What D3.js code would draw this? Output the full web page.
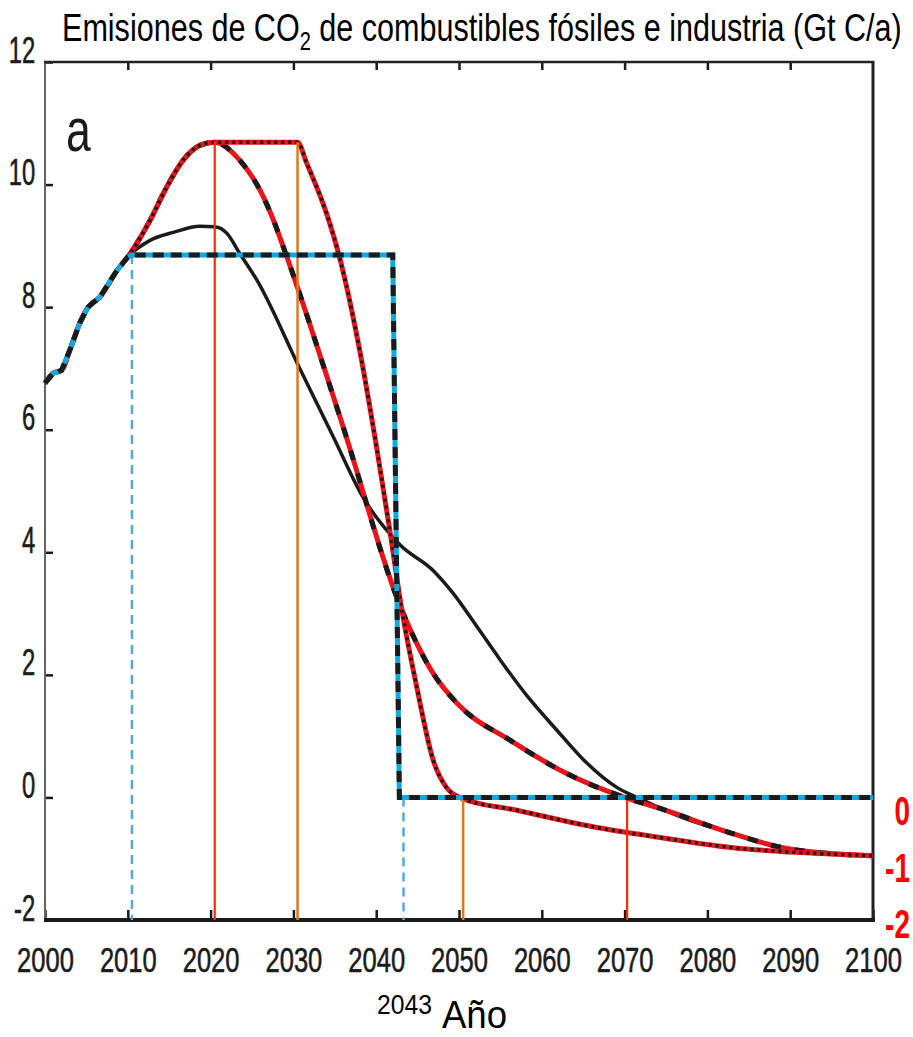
<!DOCTYPE html>
<html>
<head>
<meta charset="utf-8">
<script src="https://cdn.jsdelivr.net/npm/d3@7"></script>
<style>
body { margin: 0; background: #fff; }
svg { display: block; font-family: "Liberation Sans", Arial, sans-serif; }
</style>
</head>
<body>
<div id="vis1"></div>
<script>
// historical emissions, shared by every path
var histYears = [2000, 2001, 2002, 2003, 2004.2, 2005.2, 2006.6, 2008.7, 2010, 2010.6];
var histVals  = [6.76, 6.92, 6.97, 7.30, 7.74, 8.00, 8.16, 8.60, 8.82, 8.85];

// blue/black dashed step path
var stepYears = [2010.6, 2042.0, 2042.8, 2100];
var stepVals  = [8.85, 8.85, 0, 0];

// black solid path
var blackYears = [2010, 2012.7, 2015.5, 2018.7, 2020.5, 2022, 2023.5, 2025.6, 2030.8, 2034.8, 2038.4,
                  2042.9, 2046.9, 2049.3, 2052.2, 2055, 2058.2, 2061.8, 2065, 2069.1, 2071.5, 2077, 2083.1, 2089.1, 2095, 2100];
var blackVals  = [8.82, 9.09, 9.22, 9.32, 9.31, 9.20, 8.88, 8.44, 6.99, 5.89, 4.90,
                  4.12, 3.70, 3.33, 2.78, 2.24, 1.66, 1.10, 0.62, 0.16, 0.00, -0.33, -0.59, -0.82, -0.92, -0.95];

// red with black dashes (peak 2020)
var dashYears = [2010, 2012.7, 2014.7, 2016.7, 2018.7, 2020.5, 2023.5, 2026, 2027.5, 2029, 2036, 2042.9,
                 2046.9, 2049.8, 2056.2, 2063, 2070, 2074.3, 2081.9, 2089.1, 2095.2, 2100];
var dashVals  = [8.82, 9.42, 9.96, 10.40, 10.64, 10.69, 10.40, 9.90, 9.45, 8.90, 6.05, 3.12,
                 2.02, 1.53, 0.93, 0.39, 0.00, -0.18, -0.54, -0.82, -0.92, -0.95];

// red with black dots (plateau 2020-2030)
var dotYears = [2010, 2012.7, 2014.7, 2016.7, 2018.7, 2020.5, 2030.5, 2031.6, 2034, 2035.6, 2038, 2040.1,
                2041.7, 2042.9, 2044.9, 2046.9, 2048.5, 2050.1, 2057, 2067, 2075.1, 2083.1, 2091.2, 2100];
var dotVals  = [8.82, 9.42, 9.96, 10.40, 10.64, 10.69, 10.69, 10.35, 9.53, 8.80, 7.30, 5.67,
                4.31, 3.22, 1.80, 0.60, 0.16, 0.00, -0.21, -0.50, -0.67, -0.82, -0.90, -0.95];

// thin vertical marker lines
var markYears = [2010.5, 2020.5, 2030.5, 2043.3, 2050.5, 2070.3];
var markTops  = [8.85, 10.69, 10.69, 0, 0, 0];
var markKinds = ["blue", "red", "orange", "blue", "orange", "red"];

var xTicks = [2000, 2010, 2020, 2030, 2040, 2050, 2060, 2070, 2080, 2090, 2100];
var yTicks = [-2, 0, 2, 4, 6, 8, 10, 12];
var rightLabels = ["0", "-1", "-2"];
var rightVals = [0, -1, -2];

var titleMain = "Emisiones de CO";
var titleSub = "2";
var titleRest = " de combustibles fósiles e industria (Gt C/a)";

var w = 913, h = 1037;
var svg = d3.select("#vis1").append("svg").attr("width", w).attr("height", h);

var x = d3.scaleLinear().domain([2000, 2100]).range([45, 873]);
var y = d3.scaleLinear().domain([-2, 12]).range([920, 62]);

function pts(xs, vs) { return xs.map(function(d, i){ return [d, vs[i]]; }); }
var line = d3.line().x(function(d){ return x(d[0]); }).y(function(d){ return y(d[1]); }).curve(d3.curveMonotoneX);
var lineLin = d3.line().x(function(d){ return x(d[0]); }).y(function(d){ return y(d[1]); });

function squeeze(sel, target) {
	// horizontal condense of a text so it fits the target width
	var n = sel.node().getComputedTextLength();
	return target / n;
}

// axes (labels + inward ticks)
var gx = svg.append("g").attr("transform", "translate(0,920)")
	.call(d3.axisBottom(x).tickValues(xTicks).tickSizeInner(-10).tickSizeOuter(0).tickPadding(27).tickFormat(function(d){ return String(d); }));
gx.select(".domain").remove();
gx.selectAll("line").attr("stroke", "#1a1a1a").attr("stroke-width", 2.5);
gx.selectAll("text").attr("font-size", 35).attr("fill", "#1c1c1c").attr("font-family", "Liberation Sans")
	.attr("stroke", "#1c1c1c").attr("stroke-width", 0.6)
	.attr("transform", "scale(0.73,1)");

var gtop = svg.append("g").attr("transform", "translate(0,62)")
	.call(d3.axisTop(x).tickValues(xTicks.slice(1, -1)).tickSizeInner(-8).tickSizeOuter(0).tickFormat(""));
gtop.select(".domain").remove();
gtop.selectAll("line").attr("stroke", "#1a1a1a").attr("stroke-width", 2.5);

var gy = svg.append("g").attr("transform", "translate(45,0)")
	.call(d3.axisLeft(y).tickValues(yTicks).tickSizeInner(-8).tickSizeOuter(0).tickPadding(15).tickFormat(function(d){ return String(d); }));
gy.select(".domain").remove();
gy.selectAll("line").attr("stroke", "#1a1a1a").attr("stroke-width", 2.5);
gy.selectAll("text").attr("font-size", 36).attr("fill", "#1c1c1c").attr("font-family", "Liberation Sans")
	.attr("stroke", "#1c1c1c").attr("stroke-width", 0.6)
	.attr("dy", "0").attr("transform", "scale(0.66,1)");

// frame
svg.append("line").attr("x1", 45).attr("x2", 45).attr("y1", 62).attr("y2", 921).attr("stroke", "#666").attr("stroke-width", 2);
svg.append("line").attr("x1", 44).attr("x2", 874).attr("y1", 62).attr("y2", 62).attr("stroke", "#222").attr("stroke-width", 2.5);
svg.append("line").attr("x1", 873).attr("x2", 873).attr("y1", 61).attr("y2", 921).attr("stroke", "#222").attr("stroke-width", 3);
svg.append("line").attr("x1", 44).attr("x2", 875).attr("y1", 920).attr("y2", 920).attr("stroke", "#1a1a1a").attr("stroke-width", 4);

// curves
var hist = pts(histYears, histVals);
var black = hist.slice(0, -1).concat(pts(blackYears, blackVals).slice(1));
var dash = hist.slice(0, -1).concat(pts(dashYears, dashVals).slice(1));
var dot = hist.slice(0, -1).concat(pts(dotYears, dotVals).slice(1));

svg.append("path").attr("d", line(black)).attr("fill", "none").attr("stroke", "#1b1b1b").attr("stroke-width", 3.5);

svg.append("path").attr("d", line(dash)).attr("fill", "none").attr("stroke", "#e8141b").attr("stroke-width", 5);
svg.append("path").attr("d", line(dash)).attr("fill", "none").attr("stroke", "#1b1b1b").attr("stroke-width", 5)
	.attr("stroke-dasharray", "10,14");

svg.append("path").attr("d", line(dot)).attr("fill", "none").attr("stroke", "#e8141b").attr("stroke-width", 5);
svg.append("path").attr("d", line(dot)).attr("fill", "none").attr("stroke", "#1b1b1b").attr("stroke-width", 3.5)
	.attr("stroke-dasharray", "3,4");

// vertical markers
var markStyle = {
	blue:   { c: "#5ba6dc", w: 2.5, dash: "9,6" },
	red:    { c: "#ff2a00", w: 2.2, dash: null },
	orange: { c: "#dd7a1c", w: 2.5, dash: null }
};
svg.selectAll(".mark").data(markYears).enter().append("line")
	.attr("class", "mark")
	.attr("x1", function(d){ return x(d); })
	.attr("x2", function(d){ return x(d); })
	.attr("y1", function(d, i){ return y(markTops[i]); })
	.attr("y2", y(-2))
	.attr("stroke", function(d, i){ return markStyle[markKinds[i]].c; })
	.attr("stroke-width", function(d, i){ return markStyle[markKinds[i]].w; })
	.attr("stroke-dasharray", function(d, i){ return markStyle[markKinds[i]].dash; });

// blue step path on top
var step = hist.concat(pts(stepYears, stepVals).slice(1));
svg.append("path").attr("d", lineLin(step)).attr("fill", "none").attr("stroke", "#10a8e0").attr("stroke-width", 5);
svg.append("path").attr("d", lineLin(step)).attr("fill", "none").attr("stroke", "#1b1b1b").attr("stroke-width", 5)
	.attr("stroke-dasharray", "11,7");

// title
var tg = svg.append("g").attr("transform", "translate(62,41)");
var title = tg.append("text").attr("font-size", 38).attr("fill", "#000");
title.append("tspan").text(titleMain);
title.append("tspan").attr("font-size", 25).attr("dy", 9).text(titleSub);
title.append("tspan").attr("dy", -9).text(titleRest);
title.attr("transform", "scale(" + squeeze(title, 840) + ",1)");

// panel letter
var ag = svg.append("g").attr("transform", "translate(66,151)");
ag.append("text").attr("font-size", 62).attr("fill", "#1a1a1a").attr("transform", "scale(0.72,1)").text("a");

// right-hand red labels
var yr = d3.scaleLinear().domain([0, -2]).range([825, 938]);
rightLabels.forEach(function(t, i){
	var g = svg.append("g").attr("transform", "translate(910," + yr(rightVals[i]) + ")");
	g.append("text").attr("text-anchor", "end").attr("font-size", 40).attr("font-weight", "bold")
		.attr("fill", "#ff0000").attr("transform", "scale(0.7,1)").text(t);
});

// x-axis title
var sg = svg.append("g").attr("transform", "translate(377,1014)");
var sup = sg.append("text").attr("font-size", 28).attr("fill", "#000").text("2043");
sup.attr("transform", "scale(" + squeeze(sup, 55) + ",1)");
var ng = svg.append("g").attr("transform", "translate(442,1028)");
var ano = ng.append("text").attr("font-size", 38).attr("fill", "#000").text("Año");
ano.attr("transform", "scale(" + squeeze(ano, 65) + ",1)");
</script>
</body>
</html>
